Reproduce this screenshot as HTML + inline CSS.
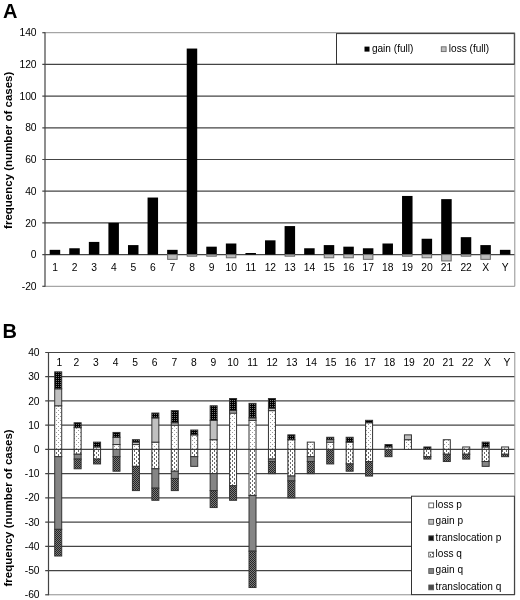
<!DOCTYPE html>
<html><head><meta charset="utf-8"><style>
html,body{margin:0;padding:0;background:#fff;}
svg{display:block;filter:grayscale(1);}
text{font-family:'Liberation Sans', sans-serif;fill:#000;}
</style></head><body>
<svg width="520" height="600" viewBox="0 0 520 600">
<rect width="520" height="600" fill="#fff"/>
<defs><pattern id="pLP" width="4" height="4" patternUnits="userSpaceOnUse"><rect width="4" height="4" fill="#fff"/><rect x="0" y="0" width="1" height="1" fill="#999"/><rect x="2" y="2" width="1" height="1" fill="#999"/></pattern><pattern id="pLQ" width="4" height="4" patternUnits="userSpaceOnUse"><rect width="4" height="4" fill="#fff"/><rect x="0" y="0" width="1" height="2" fill="#6a6a6a"/><rect x="2" y="2" width="1" height="2" fill="#6a6a6a"/></pattern><pattern id="pTP" width="4" height="4" patternUnits="userSpaceOnUse"><rect width="4" height="4" fill="#000"/><rect x="0" y="0" width="1" height="1" fill="#777"/><rect x="2" y="0" width="1" height="1" fill="#777"/><rect x="0" y="2" width="1" height="1" fill="#777"/><rect x="2" y="2" width="1" height="1" fill="#777"/></pattern><pattern id="pTQ" width="2" height="2" patternUnits="userSpaceOnUse"><rect width="2" height="2" fill="#7a7a7a"/><rect x="0" y="0" width="1" height="1" fill="#262626"/><rect x="1" y="1" width="1" height="1" fill="#262626"/></pattern></defs>
<text x="3" y="17.6" font-size="20" font-weight="bold">A</text>
<line x1="45.0" y1="32.70" x2="514.8" y2="32.70" stroke="#909090" stroke-width="1"/>
<line x1="42.3" y1="32.70" x2="45.0" y2="32.70" stroke="#444" stroke-width="1.2"/>
<text x="36.6" y="36.30" font-size="10.3" text-anchor="end">140</text>
<line x1="42.3" y1="64.40" x2="514.8" y2="64.40" stroke="#444" stroke-width="1.2"/>
<text x="36.6" y="68.00" font-size="10.3" text-anchor="end">120</text>
<line x1="42.3" y1="96.10" x2="514.8" y2="96.10" stroke="#444" stroke-width="1.2"/>
<text x="36.6" y="99.70" font-size="10.3" text-anchor="end">100</text>
<line x1="42.3" y1="127.80" x2="514.8" y2="127.80" stroke="#444" stroke-width="1.2"/>
<text x="36.6" y="131.40" font-size="10.3" text-anchor="end">80</text>
<line x1="42.3" y1="159.50" x2="514.8" y2="159.50" stroke="#444" stroke-width="1.2"/>
<text x="36.6" y="163.10" font-size="10.3" text-anchor="end">60</text>
<line x1="42.3" y1="191.20" x2="514.8" y2="191.20" stroke="#444" stroke-width="1.2"/>
<text x="36.6" y="194.80" font-size="10.3" text-anchor="end">40</text>
<line x1="42.3" y1="222.90" x2="514.8" y2="222.90" stroke="#444" stroke-width="1.2"/>
<text x="36.6" y="226.50" font-size="10.3" text-anchor="end">20</text>
<line x1="42.3" y1="254.60" x2="514.8" y2="254.60" stroke="#444" stroke-width="1.2"/>
<text x="36.6" y="258.20" font-size="10.3" text-anchor="end">0</text>
<line x1="45.0" y1="286.30" x2="514.8" y2="286.30" stroke="#909090" stroke-width="1"/>
<line x1="42.3" y1="286.30" x2="45.0" y2="286.30" stroke="#444" stroke-width="1.2"/>
<text x="36.6" y="289.90" font-size="10.3" text-anchor="end">-20</text>
<line x1="514.8" y1="32.70" x2="514.8" y2="286.30" stroke="#909090" stroke-width="1"/>
<rect x="49.69" y="249.84" width="10.5" height="4.75" fill="#000"/>
<text x="55.04" y="270.6" font-size="10.3" text-anchor="middle">1</text>
<rect x="69.26" y="248.26" width="10.5" height="6.34" fill="#000"/>
<text x="74.61" y="270.6" font-size="10.3" text-anchor="middle">2</text>
<rect x="88.84" y="241.92" width="10.5" height="12.68" fill="#000"/>
<text x="94.19" y="270.6" font-size="10.3" text-anchor="middle">3</text>
<rect x="108.41" y="222.90" width="10.5" height="31.70" fill="#000"/>
<text x="113.76" y="270.6" font-size="10.3" text-anchor="middle">4</text>
<rect x="127.99" y="245.09" width="10.5" height="9.51" fill="#000"/>
<text x="133.34" y="270.6" font-size="10.3" text-anchor="middle">5</text>
<rect x="147.56" y="197.54" width="10.5" height="57.06" fill="#000"/>
<text x="152.91" y="270.6" font-size="10.3" text-anchor="middle">6</text>
<rect x="167.14" y="249.84" width="10.5" height="4.75" fill="#000"/>
<rect x="167.64" y="254.60" width="9.5" height="4.76" fill="#bdbdbd" stroke="#6a6a6a" stroke-width="1"/>
<text x="172.49" y="270.6" font-size="10.3" text-anchor="middle">7</text>
<rect x="186.71" y="48.55" width="10.5" height="206.05" fill="#000"/>
<rect x="187.21" y="254.60" width="9.5" height="1.59" fill="#bdbdbd" stroke="#6a6a6a" stroke-width="1"/>
<text x="192.06" y="270.6" font-size="10.3" text-anchor="middle">8</text>
<rect x="206.29" y="246.67" width="10.5" height="7.93" fill="#000"/>
<rect x="206.79" y="254.60" width="9.5" height="1.59" fill="#bdbdbd" stroke="#6a6a6a" stroke-width="1"/>
<text x="211.64" y="270.6" font-size="10.3" text-anchor="middle">9</text>
<rect x="225.86" y="243.50" width="10.5" height="11.09" fill="#000"/>
<rect x="226.36" y="254.60" width="9.5" height="3.17" fill="#bdbdbd" stroke="#6a6a6a" stroke-width="1"/>
<text x="231.21" y="270.6" font-size="10.3" text-anchor="middle">10</text>
<rect x="245.44" y="253.01" width="10.5" height="1.59" fill="#000"/>
<text x="250.79" y="270.6" font-size="10.3" text-anchor="middle">11</text>
<rect x="265.01" y="240.33" width="10.5" height="14.27" fill="#000"/>
<text x="270.36" y="270.6" font-size="10.3" text-anchor="middle">12</text>
<rect x="284.59" y="226.07" width="10.5" height="28.53" fill="#000"/>
<rect x="285.09" y="254.60" width="9.5" height="1.59" fill="#bdbdbd" stroke="#6a6a6a" stroke-width="1"/>
<text x="289.94" y="270.6" font-size="10.3" text-anchor="middle">13</text>
<rect x="304.16" y="248.26" width="10.5" height="6.34" fill="#000"/>
<text x="309.51" y="270.6" font-size="10.3" text-anchor="middle">14</text>
<rect x="323.74" y="245.09" width="10.5" height="9.51" fill="#000"/>
<rect x="324.24" y="254.60" width="9.5" height="3.17" fill="#bdbdbd" stroke="#6a6a6a" stroke-width="1"/>
<text x="329.09" y="270.6" font-size="10.3" text-anchor="middle">15</text>
<rect x="343.31" y="246.67" width="10.5" height="7.93" fill="#000"/>
<rect x="343.81" y="254.60" width="9.5" height="3.17" fill="#bdbdbd" stroke="#6a6a6a" stroke-width="1"/>
<text x="348.66" y="270.6" font-size="10.3" text-anchor="middle">16</text>
<rect x="362.89" y="248.26" width="10.5" height="6.34" fill="#000"/>
<rect x="363.39" y="254.60" width="9.5" height="4.76" fill="#bdbdbd" stroke="#6a6a6a" stroke-width="1"/>
<text x="368.24" y="270.6" font-size="10.3" text-anchor="middle">17</text>
<rect x="382.46" y="243.50" width="10.5" height="11.09" fill="#000"/>
<text x="387.81" y="270.6" font-size="10.3" text-anchor="middle">18</text>
<rect x="402.04" y="195.95" width="10.5" height="58.65" fill="#000"/>
<rect x="402.54" y="254.60" width="9.5" height="1.59" fill="#bdbdbd" stroke="#6a6a6a" stroke-width="1"/>
<text x="407.39" y="270.6" font-size="10.3" text-anchor="middle">19</text>
<rect x="421.61" y="238.75" width="10.5" height="15.85" fill="#000"/>
<rect x="422.11" y="254.60" width="9.5" height="3.17" fill="#bdbdbd" stroke="#6a6a6a" stroke-width="1"/>
<text x="426.96" y="270.6" font-size="10.3" text-anchor="middle">20</text>
<rect x="441.19" y="199.12" width="10.5" height="55.47" fill="#000"/>
<rect x="441.69" y="254.60" width="9.5" height="6.34" fill="#bdbdbd" stroke="#6a6a6a" stroke-width="1"/>
<text x="446.54" y="270.6" font-size="10.3" text-anchor="middle">21</text>
<rect x="460.76" y="237.16" width="10.5" height="17.44" fill="#000"/>
<rect x="461.26" y="254.60" width="9.5" height="1.59" fill="#bdbdbd" stroke="#6a6a6a" stroke-width="1"/>
<text x="466.11" y="270.6" font-size="10.3" text-anchor="middle">22</text>
<rect x="480.34" y="245.09" width="10.5" height="9.51" fill="#000"/>
<rect x="480.84" y="254.60" width="9.5" height="4.76" fill="#bdbdbd" stroke="#6a6a6a" stroke-width="1"/>
<text x="485.69" y="270.6" font-size="10.3" text-anchor="middle">X</text>
<rect x="499.91" y="249.84" width="10.5" height="4.75" fill="#000"/>
<text x="505.26" y="270.6" font-size="10.3" text-anchor="middle">Y</text>
<line x1="45.0" y1="32.20" x2="45.0" y2="286.80" stroke="#444" stroke-width="1.2"/>
<rect x="336.5" y="33.6" width="177.8" height="30.4" fill="#fff" stroke="#333"/>
<rect x="364.5" y="46.6" width="5" height="5" fill="#000"/>
<text x="371.9" y="51.9" font-size="10.1">gain (full)</text>
<rect x="441.3" y="46.8" width="4.8" height="4.8" fill="#bdbdbd" stroke="#6a6a6a" stroke-width="0.9"/>
<text x="448.8" y="51.9" font-size="10.1">loss (full)</text>
<text transform="translate(12,150.3) rotate(-90)" font-size="11.5" font-weight="bold" text-anchor="middle">frequency (number of cases)</text>
<text x="2.6" y="337.9" font-size="20" font-weight="bold">B</text>
<line x1="45.2" y1="352.48" x2="514.8" y2="352.48" stroke="#444" stroke-width="1.2"/>
<text x="39.6" y="356.08" font-size="10.3" text-anchor="end">40</text>
<line x1="45.2" y1="376.71" x2="514.8" y2="376.71" stroke="#444" stroke-width="1.2"/>
<text x="39.6" y="380.31" font-size="10.3" text-anchor="end">30</text>
<line x1="45.2" y1="400.94" x2="514.8" y2="400.94" stroke="#444" stroke-width="1.2"/>
<text x="39.6" y="404.54" font-size="10.3" text-anchor="end">20</text>
<line x1="45.2" y1="425.17" x2="514.8" y2="425.17" stroke="#444" stroke-width="1.2"/>
<text x="39.6" y="428.77" font-size="10.3" text-anchor="end">10</text>
<line x1="45.2" y1="449.40" x2="514.8" y2="449.40" stroke="#444" stroke-width="1.2"/>
<text x="39.6" y="453.00" font-size="10.3" text-anchor="end">0</text>
<line x1="45.2" y1="473.63" x2="514.8" y2="473.63" stroke="#444" stroke-width="1.2"/>
<text x="39.6" y="477.23" font-size="10.3" text-anchor="end">-10</text>
<line x1="45.2" y1="497.86" x2="514.8" y2="497.86" stroke="#444" stroke-width="1.2"/>
<text x="39.6" y="501.46" font-size="10.3" text-anchor="end">-20</text>
<line x1="45.2" y1="522.09" x2="514.8" y2="522.09" stroke="#444" stroke-width="1.2"/>
<text x="39.6" y="525.69" font-size="10.3" text-anchor="end">-30</text>
<line x1="45.2" y1="546.32" x2="514.8" y2="546.32" stroke="#444" stroke-width="1.2"/>
<text x="39.6" y="549.92" font-size="10.3" text-anchor="end">-40</text>
<line x1="45.2" y1="570.55" x2="514.8" y2="570.55" stroke="#444" stroke-width="1.2"/>
<text x="39.6" y="574.15" font-size="10.3" text-anchor="end">-50</text>
<line x1="48.5" y1="594.78" x2="514.8" y2="594.78" stroke="#909090" stroke-width="1"/>
<line x1="45.2" y1="594.78" x2="48.5" y2="594.78" stroke="#444" stroke-width="1.2"/>
<text x="39.6" y="598.38" font-size="10.3" text-anchor="end">-60</text>
<line x1="514.8" y1="352.48" x2="514.8" y2="594.78" stroke="#909090" stroke-width="1"/>
<rect x="54.71" y="405.79" width="7" height="43.61" fill="url(#pLP)" stroke="#333" stroke-width="1"/>
<rect x="54.71" y="388.82" width="7" height="16.96" fill="#c0c0c0" stroke="#333" stroke-width="1"/>
<rect x="54.71" y="371.86" width="7" height="16.96" fill="url(#pTP)" stroke="#333" stroke-width="1"/>
<rect x="54.71" y="449.40" width="7" height="7.27" fill="url(#pLQ)" stroke="#333" stroke-width="1"/>
<rect x="54.71" y="456.67" width="7" height="72.69" fill="#858585" stroke="#333" stroke-width="1"/>
<rect x="54.71" y="529.36" width="7" height="26.65" fill="url(#pTQ)" stroke="#333" stroke-width="1"/>
<text x="59.40" y="365.9" font-size="10.3" text-anchor="middle">1</text>
<rect x="74.14" y="427.59" width="7" height="21.81" fill="url(#pLP)" stroke="#333" stroke-width="1"/>
<rect x="74.14" y="422.75" width="7" height="4.85" fill="url(#pTP)" stroke="#333" stroke-width="1"/>
<rect x="74.14" y="449.40" width="7" height="4.85" fill="url(#pLQ)" stroke="#333" stroke-width="1"/>
<rect x="74.14" y="454.25" width="7" height="4.85" fill="#858585" stroke="#333" stroke-width="1"/>
<rect x="74.14" y="459.09" width="7" height="9.69" fill="url(#pTQ)" stroke="#333" stroke-width="1"/>
<text x="76.42" y="365.9" font-size="10.3" text-anchor="middle">2</text>
<rect x="93.57" y="446.98" width="7" height="2.42" fill="url(#pLP)" stroke="#333" stroke-width="1"/>
<rect x="93.57" y="442.13" width="7" height="4.85" fill="url(#pTP)" stroke="#333" stroke-width="1"/>
<rect x="93.57" y="449.40" width="7" height="9.69" fill="url(#pLQ)" stroke="#333" stroke-width="1"/>
<rect x="93.57" y="459.09" width="7" height="4.85" fill="url(#pTQ)" stroke="#333" stroke-width="1"/>
<text x="95.99" y="365.9" font-size="10.3" text-anchor="middle">3</text>
<rect x="113.00" y="444.55" width="7" height="4.85" fill="url(#pLP)" stroke="#333" stroke-width="1"/>
<rect x="113.00" y="437.28" width="7" height="7.27" fill="#c0c0c0" stroke="#333" stroke-width="1"/>
<rect x="113.00" y="432.44" width="7" height="4.85" fill="url(#pTP)" stroke="#333" stroke-width="1"/>
<rect x="113.00" y="449.40" width="7" height="7.27" fill="#858585" stroke="#333" stroke-width="1"/>
<rect x="113.00" y="456.67" width="7" height="14.54" fill="url(#pTQ)" stroke="#333" stroke-width="1"/>
<text x="115.56" y="365.9" font-size="10.3" text-anchor="middle">4</text>
<rect x="132.43" y="444.55" width="7" height="4.85" fill="url(#pLP)" stroke="#333" stroke-width="1"/>
<rect x="132.43" y="442.13" width="7" height="2.42" fill="#c0c0c0" stroke="#333" stroke-width="1"/>
<rect x="132.43" y="439.71" width="7" height="2.42" fill="url(#pTP)" stroke="#333" stroke-width="1"/>
<rect x="132.43" y="449.40" width="7" height="16.96" fill="url(#pLQ)" stroke="#333" stroke-width="1"/>
<rect x="132.43" y="466.36" width="7" height="24.23" fill="url(#pTQ)" stroke="#333" stroke-width="1"/>
<text x="135.13" y="365.9" font-size="10.3" text-anchor="middle">5</text>
<rect x="151.86" y="442.13" width="7" height="7.27" fill="url(#pLP)" stroke="#333" stroke-width="1"/>
<rect x="151.86" y="417.90" width="7" height="24.23" fill="#c0c0c0" stroke="#333" stroke-width="1"/>
<rect x="151.86" y="413.05" width="7" height="4.85" fill="url(#pTP)" stroke="#333" stroke-width="1"/>
<rect x="151.86" y="449.40" width="7" height="19.38" fill="url(#pLQ)" stroke="#333" stroke-width="1"/>
<rect x="151.86" y="468.78" width="7" height="19.38" fill="#858585" stroke="#333" stroke-width="1"/>
<rect x="151.86" y="488.17" width="7" height="12.11" fill="url(#pTQ)" stroke="#333" stroke-width="1"/>
<text x="154.70" y="365.9" font-size="10.3" text-anchor="middle">6</text>
<rect x="171.29" y="425.17" width="7" height="24.23" fill="url(#pLP)" stroke="#333" stroke-width="1"/>
<rect x="171.29" y="422.75" width="7" height="2.42" fill="#c0c0c0" stroke="#333" stroke-width="1"/>
<rect x="171.29" y="410.63" width="7" height="12.12" fill="url(#pTP)" stroke="#333" stroke-width="1"/>
<rect x="171.29" y="449.40" width="7" height="21.81" fill="url(#pLQ)" stroke="#333" stroke-width="1"/>
<rect x="171.29" y="471.21" width="7" height="7.27" fill="#858585" stroke="#333" stroke-width="1"/>
<rect x="171.29" y="478.48" width="7" height="12.12" fill="url(#pTQ)" stroke="#333" stroke-width="1"/>
<text x="174.27" y="365.9" font-size="10.3" text-anchor="middle">7</text>
<rect x="190.72" y="434.86" width="7" height="14.54" fill="url(#pLP)" stroke="#333" stroke-width="1"/>
<rect x="190.72" y="430.02" width="7" height="4.85" fill="url(#pTP)" stroke="#333" stroke-width="1"/>
<rect x="190.72" y="449.40" width="7" height="7.27" fill="url(#pLQ)" stroke="#333" stroke-width="1"/>
<rect x="190.72" y="456.67" width="7" height="9.69" fill="#858585" stroke="#333" stroke-width="1"/>
<text x="193.84" y="365.9" font-size="10.3" text-anchor="middle">8</text>
<rect x="210.15" y="439.71" width="7" height="9.69" fill="url(#pLP)" stroke="#333" stroke-width="1"/>
<rect x="210.15" y="420.32" width="7" height="19.38" fill="#c0c0c0" stroke="#333" stroke-width="1"/>
<rect x="210.15" y="405.79" width="7" height="14.54" fill="url(#pTP)" stroke="#333" stroke-width="1"/>
<rect x="210.15" y="449.40" width="7" height="24.23" fill="url(#pLQ)" stroke="#333" stroke-width="1"/>
<rect x="210.15" y="473.63" width="7" height="16.96" fill="#858585" stroke="#333" stroke-width="1"/>
<rect x="210.15" y="490.59" width="7" height="16.96" fill="url(#pTQ)" stroke="#333" stroke-width="1"/>
<text x="213.41" y="365.9" font-size="10.3" text-anchor="middle">9</text>
<rect x="229.58" y="413.05" width="7" height="36.35" fill="url(#pLP)" stroke="#333" stroke-width="1"/>
<rect x="229.58" y="410.63" width="7" height="2.42" fill="#c0c0c0" stroke="#333" stroke-width="1"/>
<rect x="229.58" y="398.52" width="7" height="12.11" fill="url(#pTP)" stroke="#333" stroke-width="1"/>
<rect x="229.58" y="449.40" width="7" height="36.35" fill="url(#pLQ)" stroke="#333" stroke-width="1"/>
<rect x="229.58" y="485.75" width="7" height="14.54" fill="url(#pTQ)" stroke="#333" stroke-width="1"/>
<text x="232.98" y="365.9" font-size="10.3" text-anchor="middle">10</text>
<rect x="249.01" y="420.32" width="7" height="29.08" fill="url(#pLP)" stroke="#333" stroke-width="1"/>
<rect x="249.01" y="417.90" width="7" height="2.42" fill="#c0c0c0" stroke="#333" stroke-width="1"/>
<rect x="249.01" y="403.36" width="7" height="14.54" fill="url(#pTP)" stroke="#333" stroke-width="1"/>
<rect x="249.01" y="449.40" width="7" height="46.04" fill="url(#pLQ)" stroke="#333" stroke-width="1"/>
<rect x="249.01" y="495.44" width="7" height="55.73" fill="#858585" stroke="#333" stroke-width="1"/>
<rect x="249.01" y="551.17" width="7" height="36.35" fill="url(#pTQ)" stroke="#333" stroke-width="1"/>
<text x="252.55" y="365.9" font-size="10.3" text-anchor="middle">11</text>
<rect x="268.44" y="410.63" width="7" height="38.77" fill="url(#pLP)" stroke="#333" stroke-width="1"/>
<rect x="268.44" y="408.21" width="7" height="2.42" fill="#c0c0c0" stroke="#333" stroke-width="1"/>
<rect x="268.44" y="398.52" width="7" height="9.69" fill="url(#pTP)" stroke="#333" stroke-width="1"/>
<rect x="268.44" y="449.40" width="7" height="9.69" fill="url(#pLQ)" stroke="#333" stroke-width="1"/>
<rect x="268.44" y="459.09" width="7" height="2.42" fill="#858585" stroke="#333" stroke-width="1"/>
<rect x="268.44" y="461.51" width="7" height="12.12" fill="url(#pTQ)" stroke="#333" stroke-width="1"/>
<text x="272.12" y="365.9" font-size="10.3" text-anchor="middle">12</text>
<rect x="287.86" y="439.71" width="7" height="9.69" fill="url(#pLP)" stroke="#333" stroke-width="1"/>
<rect x="287.86" y="434.86" width="7" height="4.85" fill="url(#pTP)" stroke="#333" stroke-width="1"/>
<rect x="287.86" y="449.40" width="7" height="26.65" fill="url(#pLQ)" stroke="#333" stroke-width="1"/>
<rect x="287.86" y="476.05" width="7" height="4.85" fill="#858585" stroke="#333" stroke-width="1"/>
<rect x="287.86" y="480.90" width="7" height="16.96" fill="url(#pTQ)" stroke="#333" stroke-width="1"/>
<text x="291.69" y="365.9" font-size="10.3" text-anchor="middle">13</text>
<rect x="307.29" y="442.13" width="7" height="7.27" fill="url(#pLP)" stroke="#333" stroke-width="1"/>
<rect x="307.29" y="449.40" width="7" height="7.27" fill="url(#pLQ)" stroke="#333" stroke-width="1"/>
<rect x="307.29" y="456.67" width="7" height="4.85" fill="#858585" stroke="#333" stroke-width="1"/>
<rect x="307.29" y="461.51" width="7" height="12.12" fill="url(#pTQ)" stroke="#333" stroke-width="1"/>
<text x="311.26" y="365.9" font-size="10.3" text-anchor="middle">14</text>
<rect x="326.72" y="442.13" width="7" height="7.27" fill="url(#pLP)" stroke="#333" stroke-width="1"/>
<rect x="326.72" y="439.71" width="7" height="2.42" fill="#c0c0c0" stroke="#333" stroke-width="1"/>
<rect x="326.72" y="437.28" width="7" height="2.42" fill="url(#pTP)" stroke="#333" stroke-width="1"/>
<rect x="326.72" y="449.40" width="7" height="14.54" fill="url(#pTQ)" stroke="#333" stroke-width="1"/>
<text x="330.83" y="365.9" font-size="10.3" text-anchor="middle">15</text>
<rect x="346.15" y="442.13" width="7" height="7.27" fill="url(#pLP)" stroke="#333" stroke-width="1"/>
<rect x="346.15" y="437.28" width="7" height="4.85" fill="url(#pTP)" stroke="#333" stroke-width="1"/>
<rect x="346.15" y="449.40" width="7" height="14.54" fill="url(#pLQ)" stroke="#333" stroke-width="1"/>
<rect x="346.15" y="463.94" width="7" height="7.27" fill="url(#pTQ)" stroke="#333" stroke-width="1"/>
<text x="350.40" y="365.9" font-size="10.3" text-anchor="middle">16</text>
<rect x="365.58" y="422.75" width="7" height="26.65" fill="url(#pLP)" stroke="#333" stroke-width="1"/>
<rect x="365.58" y="420.32" width="7" height="2.42" fill="url(#pTP)" stroke="#333" stroke-width="1"/>
<rect x="365.58" y="449.40" width="7" height="12.12" fill="url(#pLQ)" stroke="#333" stroke-width="1"/>
<rect x="365.58" y="461.51" width="7" height="14.54" fill="url(#pTQ)" stroke="#333" stroke-width="1"/>
<text x="369.97" y="365.9" font-size="10.3" text-anchor="middle">17</text>
<rect x="385.01" y="446.98" width="7" height="2.42" fill="url(#pLP)" stroke="#333" stroke-width="1"/>
<rect x="385.01" y="444.55" width="7" height="2.42" fill="url(#pTP)" stroke="#333" stroke-width="1"/>
<rect x="385.01" y="449.40" width="7" height="7.27" fill="url(#pTQ)" stroke="#333" stroke-width="1"/>
<text x="389.54" y="365.9" font-size="10.3" text-anchor="middle">18</text>
<rect x="404.44" y="439.71" width="7" height="9.69" fill="url(#pLP)" stroke="#333" stroke-width="1"/>
<rect x="404.44" y="434.86" width="7" height="4.85" fill="#c0c0c0" stroke="#333" stroke-width="1"/>
<text x="409.11" y="365.9" font-size="10.3" text-anchor="middle">19</text>
<rect x="423.87" y="446.98" width="7" height="2.42" fill="url(#pTP)" stroke="#333" stroke-width="1"/>
<rect x="423.87" y="449.40" width="7" height="7.27" fill="url(#pLQ)" stroke="#333" stroke-width="1"/>
<rect x="423.87" y="456.67" width="7" height="2.42" fill="url(#pTQ)" stroke="#333" stroke-width="1"/>
<text x="428.68" y="365.9" font-size="10.3" text-anchor="middle">20</text>
<rect x="443.30" y="439.71" width="7" height="9.69" fill="url(#pLP)" stroke="#333" stroke-width="1"/>
<rect x="443.30" y="449.40" width="7" height="4.85" fill="url(#pLQ)" stroke="#333" stroke-width="1"/>
<rect x="443.30" y="454.25" width="7" height="7.27" fill="url(#pTQ)" stroke="#333" stroke-width="1"/>
<text x="448.25" y="365.9" font-size="10.3" text-anchor="middle">21</text>
<rect x="462.73" y="446.98" width="7" height="2.42" fill="url(#pLP)" stroke="#333" stroke-width="1"/>
<rect x="462.73" y="449.40" width="7" height="4.85" fill="url(#pLQ)" stroke="#333" stroke-width="1"/>
<rect x="462.73" y="454.25" width="7" height="4.85" fill="url(#pTQ)" stroke="#333" stroke-width="1"/>
<text x="467.82" y="365.9" font-size="10.3" text-anchor="middle">22</text>
<rect x="482.16" y="446.98" width="7" height="2.42" fill="url(#pLP)" stroke="#333" stroke-width="1"/>
<rect x="482.16" y="442.13" width="7" height="4.85" fill="url(#pTP)" stroke="#333" stroke-width="1"/>
<rect x="482.16" y="449.40" width="7" height="12.12" fill="url(#pLQ)" stroke="#333" stroke-width="1"/>
<rect x="482.16" y="461.51" width="7" height="4.85" fill="#858585" stroke="#333" stroke-width="1"/>
<text x="487.39" y="365.9" font-size="10.3" text-anchor="middle">X</text>
<rect x="501.59" y="446.98" width="7" height="2.42" fill="url(#pLP)" stroke="#333" stroke-width="1"/>
<rect x="501.59" y="449.40" width="7" height="4.85" fill="url(#pLQ)" stroke="#333" stroke-width="1"/>
<rect x="501.59" y="454.25" width="7" height="2.42" fill="url(#pTQ)" stroke="#333" stroke-width="1"/>
<text x="506.96" y="365.9" font-size="10.3" text-anchor="middle">Y</text>
<line x1="48.5" y1="351.98" x2="48.5" y2="595.28" stroke="#444" stroke-width="1.2"/>
<rect x="411.5" y="496.2" width="102.9" height="98.4" fill="#fff" stroke="#333"/>
<rect x="428.8" y="503.00" width="4.8" height="4.8" fill="#fff" stroke="#555" stroke-width="0.9"/>
<text x="435.6" y="507.70" font-size="10.1">loss p</text>
<rect x="428.8" y="519.40" width="4.8" height="4.8" fill="#c0c0c0" stroke="#555" stroke-width="0.9"/>
<text x="435.6" y="524.10" font-size="10.1">gain p</text>
<rect x="428.8" y="535.80" width="4.8" height="4.8" fill="#111" stroke="#555" stroke-width="0.9"/>
<text x="435.6" y="540.50" font-size="10.1">translocation p</text>
<rect x="428.8" y="552.20" width="4.8" height="4.8" fill="url(#pLQ)" stroke="#555" stroke-width="0.9"/>
<text x="435.6" y="556.90" font-size="10.1">loss q</text>
<rect x="428.8" y="568.60" width="4.8" height="4.8" fill="#858585" stroke="#555" stroke-width="0.9"/>
<text x="435.6" y="573.30" font-size="10.1">gain q</text>
<rect x="428.8" y="585.00" width="4.8" height="4.8" fill="#4a4a4a" stroke="#555" stroke-width="0.9"/>
<text x="435.6" y="589.70" font-size="10.1">translocation q</text>
<text transform="translate(12,507.9) rotate(-90)" font-size="11.5" font-weight="bold" text-anchor="middle">frequency (number of cases)</text>
</svg></body></html>
